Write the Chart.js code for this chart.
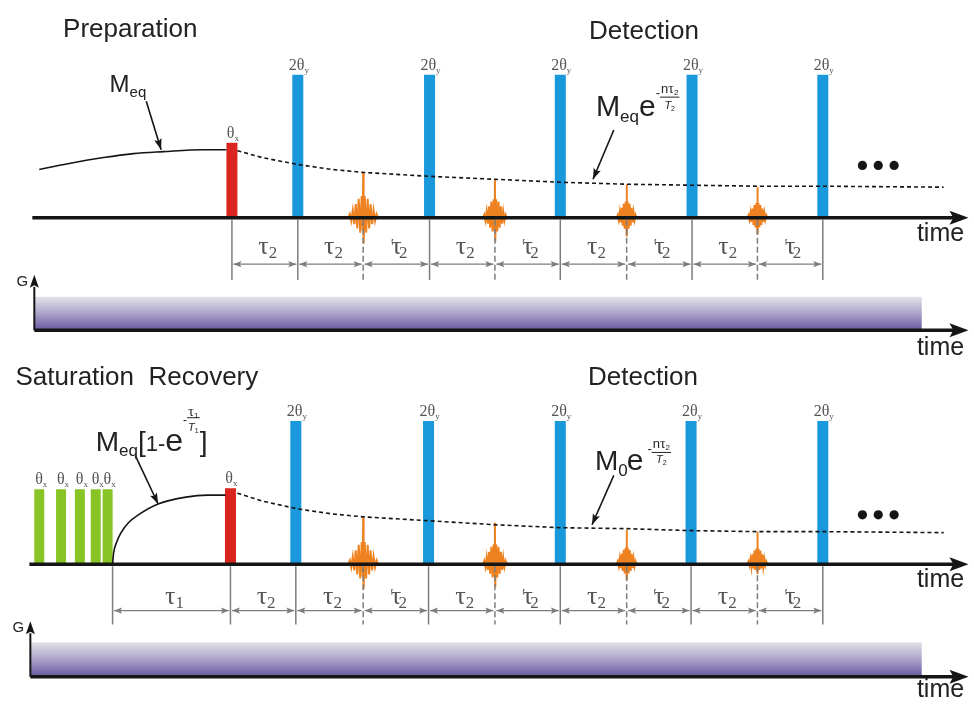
<!DOCTYPE html>
<html lang="pt-BR">
<head>
<meta charset="utf-8">
<title>Sequência de pulsos</title>
<script src="https://cdn.jsdelivr.net/npm/chart.js@4.4.1/dist/chart.umd.min.js"></script>
<style>
  html, body { margin: 0; padding: 0; background: #fff; }
  #chart-wrap { width: 974px; height: 705px; }
</style>
</head>
<body>
<div id="chart-wrap"><canvas id="pulseChart" width="974" height="705"></canvas></div>
<script>
// --- Dados (x = tempo, y = altura, na mesma escala da imagem) ---
const baselineY = [216, 567];
const excitationX = [229.5, 228];
const excitationTop = [140, 490];
const refocusX = [[296, 429, 561, 694, 826], [294, 428, 561, 693, 826]];
const refocusTop = [71, 422];
const saturationX = [35, 57, 76, 92, 104];
const saturationTop = 491;

const echoX = [362, 495, 628, 760];
const echoPeak = [[170, 177, 182, 185], [520, 525, 532, 534]];
const echoTrough = [[242, 240, 235, 233], [592, 590, 583, 577]];
const echoHalfWidth = [15, 12, 10, 10];
// forma do eco: [dx relativo, amplitude relativa]
const echoShape = [
  [-1, 0], [-0.9, 0.08], [-0.8, -0.12], [-0.7, 0.16], [-0.6, -0.25], [-0.5, 0.3],
  [-0.4, -0.42], [-0.3, 0.42], [-0.2, -0.58], [-0.1, 0.48], [-0.03, -0.5], [0, 1],
  [0.03, -1], [0.1, 0.48], [0.2, -0.58], [0.3, 0.42], [0.4, -0.42], [0.5, 0.3],
  [0.6, -0.25], [0.7, 0.16], [0.8, -0.12], [0.9, 0.08], [1, 0]
];

const decayX = [235, 260, 296, 330, 362, 429, 495, 561, 628, 694, 760, 826, 948];
const decayY = [
  [148, 155, 162, 167, 170, 174, 177, 180, 182, 183, 184, 184, 185],
  [495, 503, 511, 516, 519, 523, 527, 530, 531, 533, 534, 534, 535]
];
const meqX = [35, 60, 100, 130, 160, 200, 224];
const meqY = [167, 162, 155, 151, 149, 147, 147];
const recoveryX = [109, 110, 113, 117, 125, 135, 155, 183, 205, 223];
const recoveryY = [567, 556, 545, 536, 525, 517, 506, 499, 497, 497];

const intervalX = [
  [229.5, 296, 362, 429, 495, 561, 628, 694, 760, 826],
  [109, 228, 294, 362, 428, 495, 561, 628, 693, 760, 826]
];
const intervalLabels = [
  ['τ2', 'τ2', "τ'2", 'τ2', "τ'2", 'τ2', "τ'2", 'τ2', "τ'2"],
  ['τ1', 'τ2', 'τ2', "τ'2", 'τ2', "τ'2", 'τ2', "τ'2", 'τ2', "τ'2"]
];
const dotsX = [866, 882, 898];
const dotsY = [163, 517];

const gradTop = [296, 646];
const gradBottom = [329, 680];

// --- Layout (posições de eixos, setas e textos) ---
const rows = [
  { axisStart: 28, tickBottom: 279, arrowY: 263, labelY: 253, gAxisX: 30, gBase: 330, gRight: 926,
    pointers: [[143, 98, 158, 147], [615, 127, 594, 177]] },
  { axisStart: 25, tickBottom: 628, arrowY: 614, labelY: 607, gAxisX: 26, gBase: 681, gRight: 926,
    pointers: [[132, 457, 155, 506], [615, 477, 593, 527]] }
];

const SANS = '"Liberation Sans", Arial, sans-serif';
const SERIF = '"Liberation Serif", "Times New Roman", serif';
const INK = '#151515';
const GREY = '#7d7d7d';

// --- Helpers de datasets ---
function line(points, opts) {
  return Object.assign({
    type: 'line', data: points, borderColor: INK, borderWidth: 1.5,
    pointRadius: 0, fill: false, tension: 0, spanGaps: false, clip: false
  }, opts);
}
const gap = x => ({ x, y: null });

function verticals(xs, y0, tops) {
  const pts = [];
  xs.forEach((x, i) => {
    pts.push({ x, y: y0 }, { x, y: Array.isArray(tops) ? tops[i] : tops }, gap(x));
  });
  return pts;
}

function gradientFor(chart, top, bottom) {
  const y = chart.scales.y;
  const y0 = y ? y.getPixelForValue(top) : NaN;
  const y1 = y ? y.getPixelForValue(bottom) : NaN;
  if (!isFinite(y0) || !isFinite(y1)) return '#a59cc8';
  const g = chart.ctx.createLinearGradient(0, y0, 0, y1);
  g.addColorStop(0, '#e2e2e8');
  g.addColorStop(0.45, '#b3abcd');
  g.addColorStop(1, '#6c5ca2');
  return g;
}

const datasets = [];

rows.forEach((row, r) => {
  const base = baselineY[r];

  // gradiente G
  datasets.push(line([{ x: row.gAxisX, y: gradTop[r] }, { x: row.gRight, y: gradTop[r] }], {
    borderWidth: 0, fill: { value: gradBottom[r] }, order: 30,
    backgroundColor: c => gradientFor(c.chart, gradTop[r], gradBottom[r])
  }));
  datasets.push(line([{ x: row.gAxisX, y: row.gBase }, { x: row.gAxisX, y: row.gBase - 44 }], {
    borderWidth: 2, order: 3, heads: [[0, 1]], headLen: 13, headW: 4.5, headExtend: 12
  }));
  datasets.push(line([{ x: row.gAxisX, y: row.gBase }, { x: 962, y: row.gBase }], {
    borderWidth: 3.5, order: 3, heads: [[0, 1]], headLen: 19, headW: 7, headExtend: 11
  }));

  // pulsos
  datasets.push(line(verticals([excitationX[r]], base, excitationTop[r]), {
    borderColor: '#d9251e', borderWidth: 11, borderCapStyle: 'butt', order: 12
  }));
  datasets.push(line(verticals(refocusX[r], base, refocusTop[r]), {
    borderColor: '#1a98dc', borderWidth: 11, borderCapStyle: 'butt', order: 12
  }));
  if (r === 1) {
    datasets.push(line(verticals(saturationX, base, saturationTop), {
      borderColor: '#88c425', borderWidth: 10, borderCapStyle: 'butt', order: 12
    }));
  }

  // ecos
  const echoPts = [];
  echoX.forEach((ex, k) => {
    const up = base - echoPeak[r][k];
    const down = echoTrough[r][k] - base;
    echoShape.forEach(([dx, dy]) => {
      echoPts.push({ x: ex + dx * echoHalfWidth[k], y: dy >= 0 ? base - dy * up : base - dy * down });
    });
    echoPts.push(gap(ex));
  });
  datasets.push(line(echoPts, { borderColor: '#ef8220', borderWidth: 2, order: 11 }));

  // decaimento (tracejado) e recuperação
  datasets.push(line(decayX.map((x, i) => ({ x, y: decayY[r][i] })), {
    borderDash: [4, 3], borderWidth: 1.6, order: 9
  }));
  const cx = r === 0 ? meqX : recoveryX;
  const cy = r === 0 ? meqY : recoveryY;
  datasets.push(line(cx.map((x, i) => ({ x, y: cy[i] })), {
    borderWidth: 1.6, cubicInterpolationMode: 'monotone', order: 9
  }));

  // eixo do tempo
  datasets.push(line([{ x: row.axisStart, y: base }, { x: 962, y: base }], {
    borderWidth: 3.5, order: 5, heads: [[0, 1]], headLen: 19, headW: 7, headExtend: 11
  }));

  // marcas dos intervalos
  const xs = intervalX[r];
  const solid = xs.filter(x => !echoX.includes(x));
  const dashed = xs.filter(x => echoX.includes(x));
  datasets.push(line(verticals(solid, base + 2, row.tickBottom), { borderColor: GREY, borderWidth: 1.5, order: 6 }));
  datasets.push(line(verticals(dashed, base + 2, row.tickBottom), {
    borderColor: GREY, borderWidth: 1.5, borderDash: [6, 3], order: 6
  }));

  const arrowPts = [], arrowHeads = [];
  for (let k = 0; k < xs.length - 1; k++) {
    const i = arrowPts.length;
    arrowPts.push({ x: xs[k] + 1.5, y: row.arrowY }, { x: xs[k + 1] - 1.5, y: row.arrowY }, gap(xs[k + 1]));
    arrowHeads.push([i + 1, i], [i, i + 1]);
  }
  datasets.push(line(arrowPts, {
    borderColor: GREY, borderWidth: 1.4, order: 6, heads: arrowHeads, headLen: 8, headW: 3.2
  }));

  // setas das legendas
  row.pointers.forEach(p => {
    datasets.push(line([{ x: p[0], y: p[1] }, { x: p[2], y: p[3] }], {
      borderWidth: 1.6, order: 2, heads: [[0, 1]], headLen: 11, headW: 3.8
    }));
  });

  // reticências
  datasets.push(line(dotsX.map(x => ({ x, y: dotsY[r] })), {
    showLine: false, pointRadius: 4.6, pointBackgroundColor: INK, pointBorderWidth: 0, order: 2
  }));
});

// --- Plugin: pontas de seta ---
const arrowHeadsPlugin = {
  id: 'arrowHeads',
  afterDatasetsDraw(chart) {
    const ctx = chart.ctx;
    chart.data.datasets.forEach((ds, i) => {
      if (!ds.heads) return;
      const pts = chart.getDatasetMeta(i).data;
      ds.heads.forEach(([from, to]) => {
        const a = pts[from], b = pts[to];
        const ang = Math.atan2(b.y - a.y, b.x - a.x);
        const ext = ds.headExtend || 0;
        const tx = b.x + Math.cos(ang) * ext, ty = b.y + Math.sin(ang) * ext;
        const L = ds.headLen, W = ds.headW;
        const c = Math.cos(ang), s = Math.sin(ang);
        ctx.save();
        ctx.fillStyle = ds.borderColor;
        ctx.beginPath();
        ctx.moveTo(tx, ty);
        ctx.lineTo(tx - L * c + W * s, ty - L * s - W * c);
        ctx.lineTo(tx - L * c * 0.8, ty - L * s * 0.8);
        ctx.lineTo(tx - L * c - W * s, ty - L * s + W * c);
        ctx.closePath();
        ctx.fill();
        ctx.restore();
      });
    });
  }
};

// --- Textos (com índices e frações) ---
const S = (t, size, o) => Object.assign({ t, size }, o);
const fontOf = q => `${q.style || 'normal'} ${q.size}px ${q.fam || SANS}`;

function runsWidth(ctx, runs) {
  return runs.reduce((sum, q) => {
    if (q.frac) return sum + (q.dx || 0) + Math.max(runsWidth(ctx, q.frac[0]), runsWidth(ctx, q.frac[1])) + 2;
    ctx.font = fontOf(q);
    return sum + (q.dx || 0) + ctx.measureText(q.t).width;
  }, 0);
}

function drawRuns(ctx, x, y, runs, align) {
  let cx = align === 'center' ? x - runsWidth(ctx, runs) / 2 : x;
  runs.forEach(q => {
    cx += q.dx || 0;
    const by = y + (q.dy || 0);
    if (q.frac) {
      const w = Math.max(runsWidth(ctx, q.frac[0]), runsWidth(ctx, q.frac[1])) + 2;
      drawRuns(ctx, cx + w / 2, by - q.up, q.frac[0], 'center');
      drawRuns(ctx, cx + w / 2, by + q.down, q.frac[1], 'center');
      ctx.fillRect(cx, by - 0.5, w, 1);
      cx += w;
    } else {
      ctx.font = fontOf(q);
      ctx.fillText(q.t, cx, by);
      cx += ctx.measureText(q.t).width;
    }
  });
}

// τ com o gancho à esquerda (τ') e índice
function tauRuns(label) {
  const primed = label.includes("'");
  const runs = [S('τ', 26, { fam: SERIF })];
  if (primed) runs.push(S('′', 15, { fam: SERIF, dx: -11, dy: -5 }));
  runs.push(S(label.slice(-1), 17, { fam: SERIF, dy: 4, dx: primed ? 5 : 0 }));
  return runs;
}

const titles = [
  ['Preparation', 59, 33], ['Detection', 590, 35],
  ['Saturation  Recovery', 11, 385], ['Detection', 589, 385]
];
const timeLabels = [[921, 240], [921, 355], [921, 590], [921, 702]];
const gLabels = [[12, 285], [8, 636]];

const formulas = [
  { x: 106, y: 89, runs: [S('M', 24), S('eq', 15, { dy: 5 })] },
  { x: 597, y: 113, runs: [
    S('M', 29), S('eq', 17, { dy: 6 }), S('e', 30, { dx: 0 }), S('-', 13, { dy: -19 }),
    { frac: [[S('n', 13), S('τ', 14, { fam: SERIF }), S('2', 8, { dy: 2 })],
             [S('T', 11, { style: 'italic' }), S('2', 7, { dy: 2 })]], up: 4, down: 12, dy: -19 }
  ] },
  { x: 92, y: 452, runs: [
    S('M', 28), S('eq', 17, { dy: 5 }), S('[', 28), S('1', 22), S('-', 22), S('e', 32),
    S('-', 12, { dy: -27 }),
    { frac: [[S('τ', 14, { fam: SERIF }), S('1', 8, { dy: 2 })],
             [S('T', 11, { style: 'italic' }), S('1', 7, { dy: 2 })]], up: 2, down: 13, dy: -33 },
    S(']', 28)
  ] },
  { x: 596, y: 472, runs: [
    S('M', 28), S('0', 17, { dy: 6 }), S('e', 30, { dx: -1 }), S('-', 13, { dx: 4, dy: -17 }),
    { frac: [[S('n', 13), S('τ', 14, { fam: SERIF }), S('2', 8, { dy: 2 })],
             [S('T', 11, { style: 'italic' }), S('2', 7, { dy: 2 })]], up: 4, down: 11, dy: -18 }
  ] }
];

const textPlugin = {
  id: 'diagramText',
  afterDatasetsDraw(chart) {
    const { ctx, scales: { x, y } } = chart;
    const px = v => x.getPixelForValue(v), py = v => y.getPixelForValue(v);
    ctx.save();
    ctx.fillStyle = '#222';
    ctx.textBaseline = 'alphabetic';

    titles.forEach(([t, tx, ty]) => drawRuns(ctx, px(tx), py(ty), [S(t, 26)]));
    timeLabels.forEach(([tx, ty]) => drawRuns(ctx, px(tx), py(ty), [S('time', 25)]));
    gLabels.forEach(([tx, ty]) => drawRuns(ctx, px(tx), py(ty), [S('G', 15)]));
    formulas.forEach(f => drawRuns(ctx, px(f.x), py(f.y), f.runs));

    ctx.fillStyle = '#555';
    const pulseLabel = (main, sub, bx, top) =>
      drawRuns(ctx, px(bx + 1), py(top - 5), [S(main, 16, { fam: SERIF }), S(sub, 9, { fam: SERIF, dy: 3 })], 'center');
    rows.forEach((row, r) => {
      refocusX[r].forEach(bx => pulseLabel('2θ', 'y', bx, refocusTop[r]));
      pulseLabel('θ', 'x', excitationX[r], excitationTop[r]);
    });
    saturationX.forEach(bx => pulseLabel('θ', 'x', bx + 1, saturationTop));

    rows.forEach((row, r) => {
      const xs = intervalX[r];
      intervalLabels[r].forEach((lab, k) => {
        drawRuns(ctx, px((xs[k] + xs[k + 1]) / 2 + 3), py(row.labelY), tauRuns(lab), 'center');
      });
    });
    ctx.restore();
  }
};

// --- Gráfico ---
function initDiagram() {
  new Chart(document.getElementById('pulseChart'), {
    type: 'line',
    data: { datasets },
    options: {
      responsive: false,
      animation: false,
      devicePixelRatio: 1,
      events: [],
      layout: { padding: 0 },
      scales: {
        x: { type: 'linear', min: 0, max: 974, display: false },
        y: { type: 'linear', min: 0, max: 705, reverse: true, display: false }
      },
      plugins: { legend: { display: false }, tooltip: { enabled: false } }
    },
    plugins: [arrowHeadsPlugin, textPlugin]
  });
}

if (document.readyState === 'loading') {
  document.addEventListener('DOMContentLoaded', initDiagram);
} else {
  initDiagram();
}
</script>
</body>
</html>
